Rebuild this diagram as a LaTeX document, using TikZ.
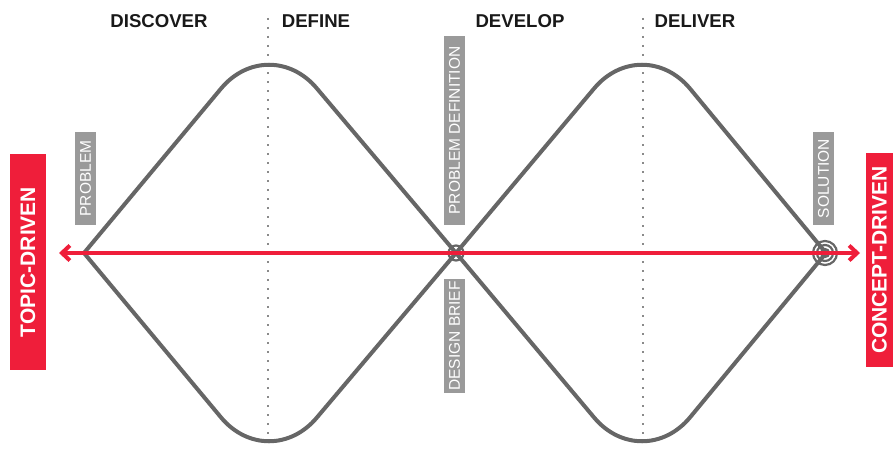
\documentclass[tikz,border=0pt]{standalone}
\usepackage{fontspec}
\setmainfont{Liberation Sans}
\usetikzlibrary{arrows.meta}
\definecolor{dred}{HTML}{EF1E3A}
\definecolor{lgray}{HTML}{666666}
\definecolor{lblgray}{HTML}{9A9A9A}
\definecolor{dotgray}{HTML}{8A8A8A}
\tikzset{
  heading/.style={anchor=base, inner sep=0pt, font=\fontsize{18.6}{20}\selectfont\bfseries, text=black!90},
  graylabel/.style={rotate=90, fill=lblgray, text=white, inner sep=0pt, minimum height=21pt, font=\fontsize{15.5}{16}\selectfont},
  redbox/.style={rotate=90, fill=dred, text=white, inner sep=0pt, font=\fontsize{21}{22}\selectfont\bfseries},
  diamondline/.style={draw=lgray, line width=4pt, line join=miter},
  dotline/.style={draw=dotgray, line width=1.6pt, dash pattern=on 1.6pt off 7.4pt},
  ringline/.style={draw=lgray, line width=2.2pt},
  redtip/.tip={Straight Barb[length=8pt,width=15pt]},
}
\begin{document}
\begin{tikzpicture}[x=1pt,y=-1pt]
\useasboundingbox (0,0) rectangle (893,452);
% dotted dividers
\draw[dotline] (268,18) -- (268,448);
\draw[dotline] (643,18) -- (643,448);
% left diamond
\draw[diamondline] (84,253) -- (221,88.6) .. controls (247.5,56.8) and (290.5,56.8) .. (317,88.6) -- (456,253)
  -- (317,417.4) .. controls (290.5,449.2) and (247.5,449.2) .. (221,417.4) -- cycle;
% right diamond
\draw[diamondline] (456,253) -- (594,88.6) .. controls (620.5,56.8) and (663.5,56.8) .. (690,88.6) -- (826,253)
  -- (690,417.4) .. controls (663.5,449.2) and (620.5,449.2) .. (594,417.4) -- cycle;
% circles
\draw[ringline] (456,253) circle (7.5);
\draw[ringline] (825,253) circle (4);
\draw[ringline] (825,253) circle (8);
\draw[ringline] (825,253) circle (12);
% headings
\node[heading] (discover) at (159,28) {DISCOVER};
\node[heading] (define) at (316,28) {DEFINE};
\node[heading] (develop) at (520,28) {DEVELOP};
\node[heading] (deliver) at (695,28) {DELIVER};
% gray labels
\node[graylabel, minimum width=93pt] (problem) at (85.5,178.5) {PROBLEM};
\node[graylabel, minimum width=189pt] (probdef) at (454.5,130.5) {PROBLEM DEFINITION};
\node[graylabel, minimum width=114pt] (brief) at (454.5,336) {DESIGN BRIEF};
\node[graylabel, minimum width=93pt] (solution) at (823.5,178.5) {SOLUTION};
% red boxes
\node[redbox, minimum width=216pt, minimum height=36pt] (topic) at (28,262) {TOPIC-DRIVEN};
\node[redbox, minimum width=214pt, minimum height=27pt] (concept) at (879.5,260) {CONCEPT-DRIVEN};
% red arrow
\coordinate (aleft) at (59,253);
\coordinate (aright) at (860,253);
\draw[draw=dred, line width=4pt, {redtip}-{redtip}] (aleft) -- (aright);
\end{tikzpicture}
\end{document}
